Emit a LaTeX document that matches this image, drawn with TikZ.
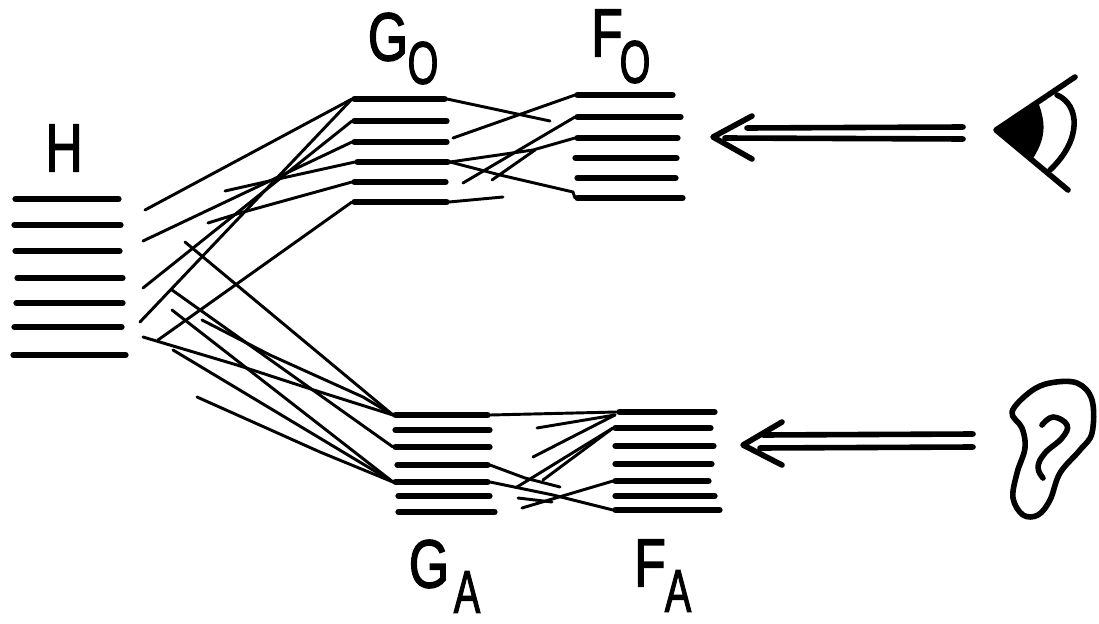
\documentclass[tikz,border=0pt]{standalone}
\usepackage{fontspec}
\newfontfamily\handfont{Liberation Sans}[FakeBold=2.2]
\tikzset{
  level/.style={line width=5pt,line cap=round,shorten <=2pt,shorten >=2pt},
  link/.style={line width=2.2pt,line cap=round,line join=round},
  outline/.style={line width=4.2pt,line cap=round,line join=round},
  letter/.style={font=\handfont\fontsize{51}{51}\selectfont,inner sep=0pt,xscale=0.76},
  subletter/.style={font=\handfont\fontsize{45}{45}\selectfont,inner sep=0pt,xscale=0.66},
}
\newcommand{\levelpair}[4]{%
  \coordinate (#1l) at (#2,#4);
  \coordinate (#1r) at (#3,#4);
  \draw[level] (#1l) -- (#1r);
}
\begin{document}
\begin{tikzpicture}[x=0.75pt,y=-0.75pt]
      \useasboundingbox (0,0) rectangle (1099,624);
      % levels
      \foreach \n/\xa/\xb/\yy in {1/13/121/199,2/12/123/225,3/13/122/251,4/15/125/278,5/14/125/303,6/12/124/327,7/11/128/355}
        {\levelpair{H\n}{\xa}{\xb}{\yy}}
      \levelpair{Go1}{352}{447}{99}
      \levelpair{Go2}{352}{449}{121}
      \levelpair{Go3}{352}{449}{142}
      \levelpair{Go4}{355}{450}{162}
      \levelpair{Go5}{352}{448}{182}
      \levelpair{Go6}{352}{449}{202}
      \levelpair{Fo1}{575}{675}{95}
      \levelpair{Fo2}{575}{683}{117}
      \levelpair{Fo3}{575}{680}{138}
      \levelpair{Fo4}{573}{679}{158}
      \levelpair{Fo5}{575}{678}{178}
      \levelpair{Fo6}{575}{685}{198}
      \levelpair{Ga1}{393}{490}{415}
      \levelpair{Ga2}{393}{492}{430}
      \levelpair{Ga3}{393}{492}{447}
      \levelpair{Ga4}{395}{490}{465}
      \levelpair{Ga5}{393}{490}{482}
      \levelpair{Ga6}{396}{492}{496}
      \levelpair{Ga7}{396}{497}{512}
      \levelpair{Fa1}{617}{717}{412}
      \levelpair{Fa2}{613}{713}{428}
      \levelpair{Fa3}{613}{716}{446}
      \levelpair{Fa4}{613}{714}{464}
      \levelpair{Fa5}{613}{711}{481}
      \levelpair{Fa6}{613}{717}{496}
      \levelpair{Fa7}{613}{722}{510}
      % free ends of the lines
      \coordinate (ha) at (145,210);
      \coordinate (hb) at (143,241);
      \coordinate (hc) at (143,288);
      \coordinate (hd) at (140,322);
      \coordinate (he) at (208,223);
      \coordinate (hf) at (158,340);
      \coordinate (hg) at (225,191);
      \coordinate (hi) at (185,242);
      \coordinate (hj) at (172,290);
      \coordinate (hk) at (172,310);
      \coordinate (hl) at (143,337);
      \coordinate (hm) at (202,320);
      \coordinate (hn) at (173,350);
      \coordinate (ho) at (197,397);
      \draw[link] (ha) -- (Go1l);
      \draw[link] (hb) -- (Go3l);
      \draw[link] (hc) -- (Go2l);
      \draw[link] (hd) -- (Go1l);
      \draw[link] (he) -- (240,213) -- (Go5l);
      \draw[link] (hf) -- (Go6l);
      \draw[link] (hg) -- (287,177) -- (Go4l);
      \draw[link] (hi) -- (Ga1l);
      \draw[link] (hj) -- (Ga3l);
      \draw[link] (hk) -- (Ga5l);
      \draw[link] (hl) -- (237,365) -- (320,392) -- (Ga1l);
      \draw[link] (hm) -- (270,355) -- (363,397) -- (Ga1l);
      \draw[link] (hn) -- (Ga5l);
      \draw[link] (ho) -- (320,452) -- (Ga5l);
      % between G and F
      \coordinate (ga) at (550,121);
      \coordinate (gb) at (453,138);
      \coordinate (gc) at (463,183);
      \coordinate (gd) at (492,180);
      \coordinate (ge) at (503,197);
      \draw[link] (Go1r) -- (ga);
      \draw[link] (gb) -- (Fo1l);
      \draw[link] (Go4r) -- (533,150) -- (Fo3l);
      \draw[link] (gc) -- (Fo2l);
      \draw[link] (gd) -- (535,150);
      \draw[link] (Go4r) -- (500,175) -- (573,192) -- (Fo6l);
      \draw[link] (Go6r) -- (ge);
      \coordinate (fa) at (537,428);
      \coordinate (fb) at (533,457);
      \coordinate (fc) at (517,487);
      \coordinate (fd) at (543,480);
      \coordinate (fe) at (560,487);
      \coordinate (ff) at (522,508);
      \coordinate (fg) at (518,498);
      \draw[link] (Ga1r) -- (Fa1l);
      \draw[link] (fa) -- (615,415);
      \draw[link] (fb) -- (615,415);
      \draw[link] (fc) -- (Fa2l);
      \draw[link] (fd) -- (Fa2l);
      \draw[link] (Ga4r) -- (525,478) -- (fe);
      \draw[link] (Ga5r) -- (553,495) -- (Fa7l);
      \draw[link] (ff) -- (Fa5l);
      \draw[link] (fg) -- (552,502);
      % arrows
      \coordinate (ua) at (713,137);
      \coordinate (ub) at (963,127);
      \coordinate (uc) at (963,139);
      \draw[outline] (752,116) -- (ua) -- (752,159);
      \draw[outline] (ub) -- (747,128);
      \draw[outline] (uc) -- (725,138);
      \coordinate (la) at (743,445);
      \coordinate (lb) at (973,434);
      \coordinate (lc) at (973,447);
      \draw[outline] (782,422) -- (la) -- (782,465);
      \draw[outline] (lb) -- (763,435);
      \draw[outline] (lc) -- (760,448);
      % eye
      \fill (996,130) -- (1038,102) .. controls (1047,125) and (1045,140) .. (1032,160) -- cycle;
      \draw[outline] (1075,77) -- (996,130) -- (1068,190);
      \draw[outline] (1057,95) .. controls (1080,105) and (1082,140) .. (1050,170);
      % ear
      \draw[outline] plot[smooth cycle,tension=0.6] coordinates {(1012,412) (1030,392) (1050,383) (1077,383) (1092,400) (1092,433) (1080,450) (1060,473) (1050,500) (1038,515) (1023,515) (1013,498) (1017,473) (1025,448) (1022,428)};
      \draw[outline] plot[smooth,tension=0.7] coordinates {(1042,425) (1053,417) (1067,425) (1062,438) (1045,453) (1038,467) (1043,478)};
      % labels
      \node[letter] (labelH) at (64,148) {H};
      \node[letter] (labelGo) at (388,37) {G};
      \node[subletter] (subGo) at (423,63) {O};
      \node[letter] (labelFo) at (607,33) {F};
      \node[subletter] (subFo) at (635,62) {O};
      \node[letter] (labelGa) at (429,564) {G};
      \node[subletter] (subGa) at (467,592) {A};
      \node[letter] (labelFa) at (650,563) {F};
      \node[subletter] (subFa) at (678,591) {A};
\end{tikzpicture}
\end{document}
